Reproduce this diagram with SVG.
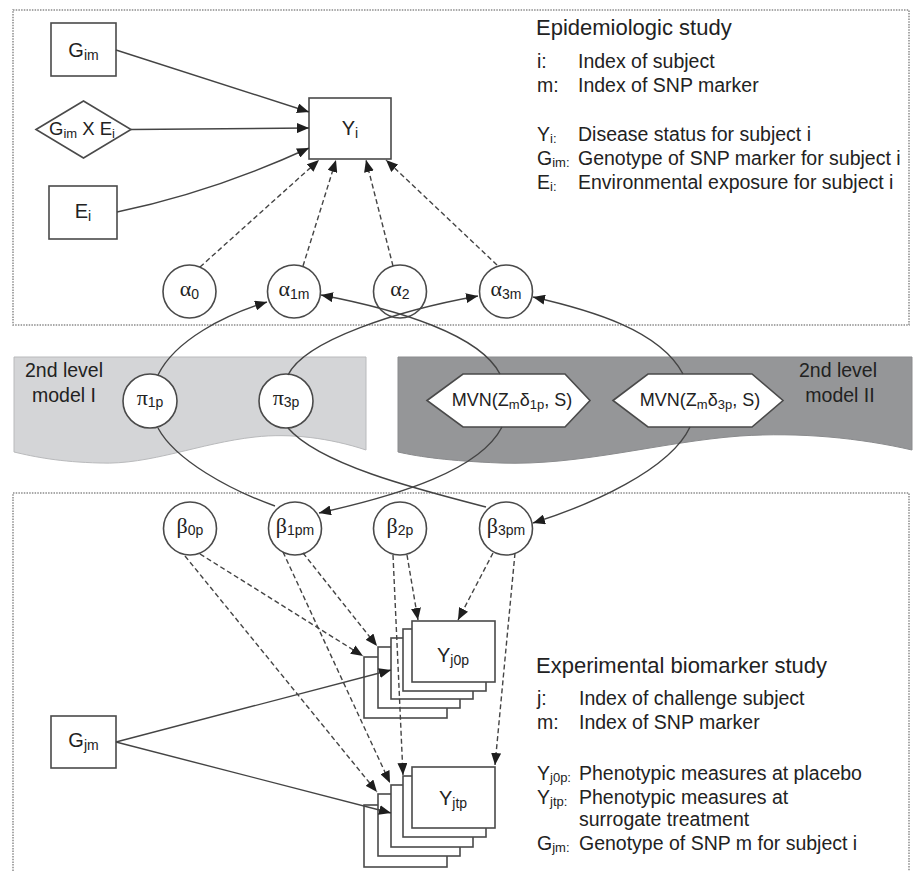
<svg xmlns="http://www.w3.org/2000/svg" width="917" height="871" viewBox="0 0 917 871">
<defs>
<marker id="ah" markerUnits="userSpaceOnUse" markerWidth="12" markerHeight="10" refX="12" refY="5" orient="auto"><path d="M0,0 L12,5 L0,10 Z" fill="#1e1e1e"/></marker>
<style>
.frame{fill:none;stroke:#8c8c8c;stroke-width:1.5;stroke-dasharray:1.5 1.2}
.nd{fill:#fff;stroke:#4a4a4a;stroke-width:1.6}
.ln{fill:none;stroke:#444;stroke-width:1.4}
.ds{fill:none;stroke:#444;stroke-width:1.4;stroke-dasharray:5 3}
text{font-family:"Liberation Sans",Arial,sans-serif;fill:#222}
.lb{font-size:20px}
.sb{font-size:14px}
.gr{font-family:"Liberation Serif","Times New Roman",serif;font-size:22px}
.lg{font-size:19.5px}
.ls{font-size:13px}
.ti{font-size:22px}
</style>
</defs>
<rect width="917" height="871" fill="#fff"/>
<g id="frames">
<rect class="frame" x="13" y="10" width="896" height="315"/>
<path class="frame" d="M13,871 V493 H909 V871"/>
</g>
<g id="band-model-I">
<path d="M14,357 H366 V450 C330,438 290,433 255,437 C200,443 150,465 100,463 C60,462 35,457 14,452 Z" fill="#d4d5d7" stroke="#b9babc" stroke-width="1"/>
<text class="lg" x="64" y="377" text-anchor="middle">2nd level</text>
<text class="lg" x="64" y="402" text-anchor="middle">model I</text>
</g>
<g id="band-model-II">
<path d="M398,357 H912 V450 C860,438 800,432 740,436 C660,442 580,466 500,463 C450,461 420,457 398,452 Z" fill="#959698" stroke="#8a8b8d" stroke-width="1"/>
<text class="lg" x="838" y="377" text-anchor="middle">2nd level</text>
<text class="lg" x="840" y="402" text-anchor="middle">model II</text>
</g>
<g id="legend-epi">
<text class="ti" x="536" y="35">Epidemiologic study</text>
<text class="lg" x="537" y="68">i:</text><text class="lg" x="578" y="68">Index of subject</text>
<text class="lg" x="537" y="92">m:</text><text class="lg" x="578" y="92">Index of SNP marker</text>
<text class="lg" x="537" y="141">Y<tspan class="ls" dy="2">i:</tspan></text><text class="lg" x="578" y="141">Disease status for subject i</text>
<text class="lg" x="537" y="165">G<tspan class="ls" dy="2">im:</tspan></text><text class="lg" x="578" y="165">Genotype of SNP marker for subject i</text>
<text class="lg" x="537" y="189">E<tspan class="ls" dy="2">i:</tspan></text><text class="lg" x="578" y="189">Environmental exposure for subject i</text>
</g>
<g id="legend-exp">
<text class="ti" x="536" y="673">Experimental biomarker study</text>
<text class="lg" x="537" y="705">j:</text><text class="lg" x="579" y="705">Index of challenge subject</text>
<text class="lg" x="537" y="729">m:</text><text class="lg" x="579" y="729">Index of SNP marker</text>
<text class="lg" x="537" y="780">Y<tspan class="ls" dy="2">j0p:</tspan></text><text class="lg" x="579" y="780">Phenotypic measures at placebo</text>
<text class="lg" x="537" y="804">Y<tspan class="ls" dy="2">jtp:</tspan></text><text class="lg" x="579" y="804">Phenotypic measures at</text>
<text class="lg" x="579" y="826">surrogate treatment</text>
<text class="lg" x="537" y="850">G<tspan class="ls" dy="2">jm:</tspan></text><text class="lg" x="579" y="850">Genotype of SNP m for subject i</text>
</g>
<g id="node-Gim"><rect class="nd" x="51" y="23" width="65" height="53"/><text class="lb" x="83.5" y="57" text-anchor="middle">G<tspan class="sb" dy="3">im</tspan></text></g>
<g id="node-GxE"><polygon class="nd" points="36,129.5 83.5,101 131,129.5 83.5,158"/><text x="82" y="135" text-anchor="middle" font-size="18.5">G<tspan font-size="13" dy="3">im</tspan><tspan dy="-3"> X E</tspan><tspan font-size="13" dy="3">i</tspan></text></g>
<g id="node-Ei"><rect class="nd" x="49" y="186" width="68" height="53"/><text class="lb" x="83" y="218" text-anchor="middle">E<tspan class="sb" dy="3">i</tspan></text></g>
<g id="node-Yi"><rect class="nd" x="309" y="98" width="82" height="61"/><text class="lb" x="350" y="135" text-anchor="middle">Y<tspan class="sb" dy="3">i</tspan></text></g>
<g id="node-a0"><circle class="nd" cx="189.5" cy="291.5" r="26.5"/><text x="189.5" y="296" text-anchor="middle"><tspan class="gr">α</tspan><tspan class="sb" dy="3">0</tspan></text></g>
<g id="node-a1m"><circle class="nd" cx="294" cy="291.5" r="26.5"/><text x="294" y="296" text-anchor="middle"><tspan class="gr">α</tspan><tspan class="sb" dy="3">1m</tspan></text></g>
<g id="node-a2"><circle class="nd" cx="400" cy="291.5" r="26.5"/><text x="400" y="296" text-anchor="middle"><tspan class="gr">α</tspan><tspan class="sb" dy="3">2</tspan></text></g>
<g id="node-a3m"><circle class="nd" cx="506" cy="291.5" r="26.5"/><text x="506" y="296" text-anchor="middle"><tspan class="gr">α</tspan><tspan class="sb" dy="3">3m</tspan></text></g>
<g id="node-pi1p"><circle class="nd" cx="150" cy="401" r="27"/><text x="150" y="405" text-anchor="middle"><tspan class="gr">π</tspan><tspan class="sb" dy="2">1p</tspan></text></g>
<g id="node-pi3p"><circle class="nd" cx="286" cy="401" r="27"/><text x="286" y="405" text-anchor="middle"><tspan class="gr">π</tspan><tspan class="sb" dy="2">3p</tspan></text></g>
<g id="node-mvn1"><polygon class="nd" points="427,400.5 463,374 565,374 590,400.5 565,427 463,427"/><text x="512" y="406" text-anchor="middle" font-size="18">MVN(Z<tspan font-size="13" dy="3">m</tspan><tspan dy="-3">δ</tspan><tspan font-size="13" dy="3">1p</tspan><tspan dy="-3">, S)</tspan></text></g>
<g id="node-mvn3"><polygon class="nd" points="613,400.5 648,374 752,374 783,400.5 752,427 648,427"/><text x="700" y="406" text-anchor="middle" font-size="18">MVN(Z<tspan font-size="13" dy="3">m</tspan><tspan dy="-3">δ</tspan><tspan font-size="13" dy="3">3p</tspan><tspan dy="-3">, S)</tspan></text></g>
<g id="node-b0p"><circle class="nd" cx="190" cy="528.5" r="26.5"/><text x="190" y="533" text-anchor="middle"><tspan class="gr">β</tspan><tspan class="sb" dy="2">0p</tspan></text></g>
<g id="node-b1pm"><circle class="nd" cx="295" cy="528.5" r="26.5"/><text x="295" y="533" text-anchor="middle"><tspan class="gr">β</tspan><tspan class="sb" dy="2">1pm</tspan></text></g>
<g id="node-b2p"><circle class="nd" cx="400" cy="528.5" r="26.5"/><text x="400" y="533" text-anchor="middle"><tspan class="gr">β</tspan><tspan class="sb" dy="2">2p</tspan></text></g>
<g id="node-b3pm"><circle class="nd" cx="506" cy="528.5" r="26.5"/><text x="506" y="533" text-anchor="middle"><tspan class="gr">β</tspan><tspan class="sb" dy="2">3pm</tspan></text></g>
<g id="node-Gjm"><rect class="nd" x="51" y="716" width="65" height="52"/><text class="lb" x="83.5" y="747" text-anchor="middle">G<tspan class="sb" dy="3">jm</tspan></text></g>
<g id="node-Yj0p">
<rect class="nd" x="364" y="657" width="83" height="61"/>
<rect class="nd" x="378" y="647" width="82" height="61"/>
<rect class="nd" x="391" y="638" width="82" height="61"/>
<rect class="nd" x="403" y="629" width="83" height="62"/>
<rect class="nd" x="412" y="621" width="83" height="61"/>
<text class="lb" x="453" y="662" text-anchor="middle">Y<tspan class="sb" dy="3">j0p</tspan></text>
</g>
<g id="node-Yjtp">
<rect class="nd" x="364" y="805" width="83" height="62"/>
<rect class="nd" x="378" y="794" width="82" height="62"/>
<rect class="nd" x="391" y="785" width="82" height="62"/>
<rect class="nd" x="403" y="776" width="83" height="61"/>
<rect class="nd" x="412" y="767" width="83" height="61"/>
<text class="lb" x="453" y="805" text-anchor="middle">Y<tspan class="sb" dy="3">jtp</tspan></text>
</g>
<g id="connectors">
<path class="ln" d="M116,50 L309,112" marker-end="url(#ah)"/>
<path class="ln" d="M131,129.5 L309,128" marker-end="url(#ah)"/>
<path class="ln" d="M117,212 Q213,192 309,148" marker-end="url(#ah)"/>
<path class="ds" d="M200,267 L319,160" marker-end="url(#ah)"/>
<path class="ds" d="M303,266 L336,160" marker-end="url(#ah)"/>
<path class="ds" d="M393,266 L366,160" marker-end="url(#ah)"/>
<path class="ds" d="M497,265 L386,160" marker-end="url(#ah)"/>
<path class="ln" d="M158,375 C175,340 225,315 267,302" marker-end="url(#ah)"/>
<path class="ln" d="M158,428 C175,460 230,490 275,506"/>
<path class="ln" d="M288,375 C305,340 400,310 478,296" marker-end="url(#ah)"/>
<path class="ln" d="M288,428 C320,465 420,490 486,507"/>
<path class="ln" d="M500,374 C480,335 400,310 321,295" marker-end="url(#ah)"/>
<path class="ln" d="M502,427 C480,470 400,495 319,513" marker-end="url(#ah)"/>
<path class="ln" d="M683,374 C660,330 590,310 533,297" marker-end="url(#ah)"/>
<path class="ln" d="M690,427 C670,470 590,505 533,523" marker-end="url(#ah)"/>
<path class="ds" d="M200,554 L363,656" marker-end="url(#ah)"/>
<path class="ds" d="M303,553 L377,646" marker-end="url(#ah)"/>
<path class="ds" d="M407,555 L418,620" marker-end="url(#ah)"/>
<path class="ds" d="M493,553 L458,620" marker-end="url(#ah)"/>
<path class="ds" d="M185,556 L377,792" marker-end="url(#ah)"/>
<path class="ds" d="M283,552 L390,783" marker-end="url(#ah)"/>
<path class="ds" d="M393,555 L403,775" marker-end="url(#ah)"/>
<path class="ds" d="M515,553 L495,765" marker-end="url(#ah)"/>
<path class="ln" d="M116,742 L391,670" marker-end="url(#ah)"/>
<path class="ln" d="M116,742 L391,813" marker-end="url(#ah)"/>
</g>
</svg>
